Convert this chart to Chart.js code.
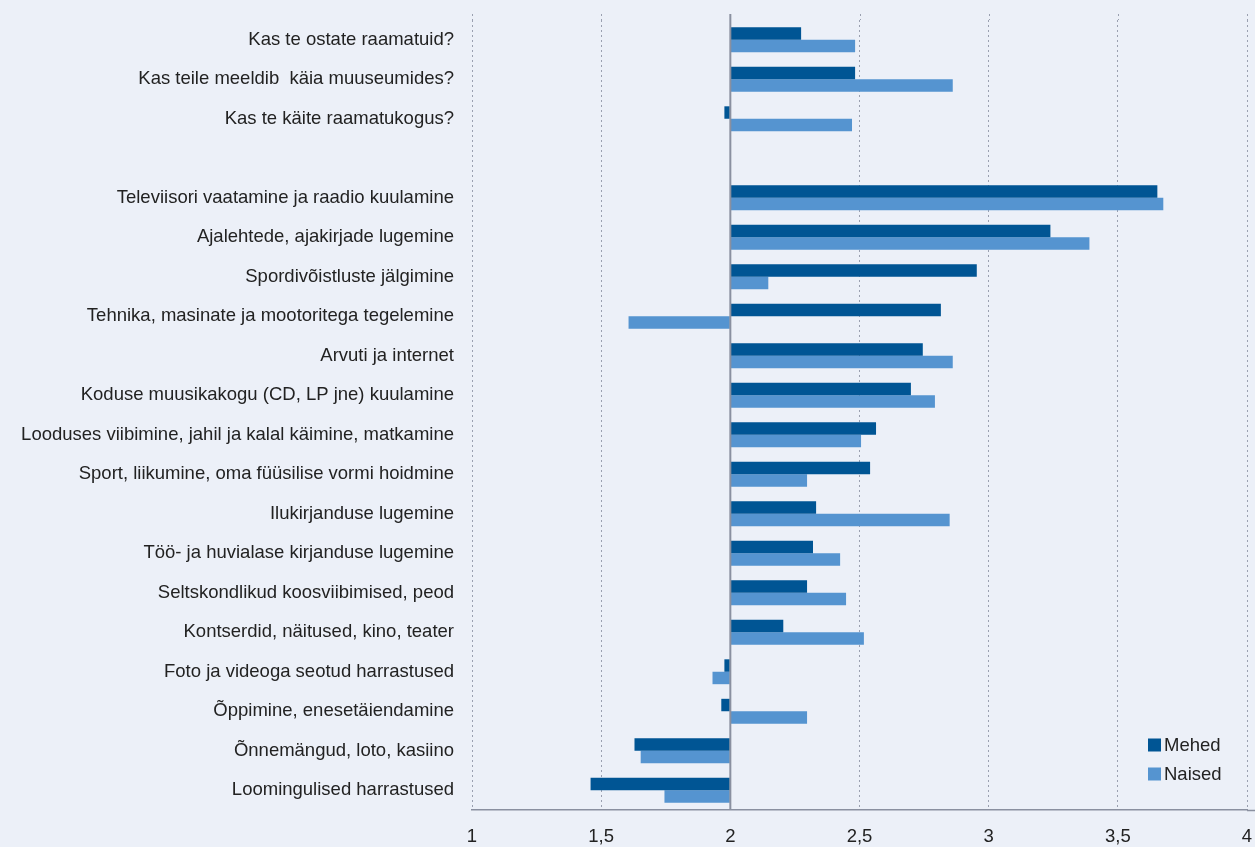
<!DOCTYPE html>
<html>
<head>
<meta charset="utf-8">
<script src="https://cdn.jsdelivr.net/npm/chart.js@4"></script>
<style>
html,body{margin:0;padding:0;background:#ecf0f8;}
#wrap{position:relative;width:1255px;height:847px;}
</style>
</head>
<body>
<div id="wrap"><canvas id="c" width="1255" height="847"></canvas></div>
<script>
const categories = [
  "Kas te ostate raamatuid?",
  "Kas teile meeldib  käia muuseumides?",
  "Kas te käite raamatukogus?",
  "",
  "Televiisori vaatamine ja raadio kuulamine",
  "Ajalehtede, ajakirjade lugemine",
  "Spordivõistluste jälgimine",
  "Tehnika, masinate ja mootoritega tegelemine",
  "Arvuti ja internet",
  "Koduse muusikakogu (CD, LP jne) kuulamine",
  "Looduses viibimine, jahil ja kalal käimine, matkamine",
  "Sport, liikumine, oma füüsilise vormi hoidmine",
  "Ilukirjanduse lugemine",
  "Töö- ja huvialase kirjanduse lugemine",
  "Seltskondlikud koosviibimised, peod",
  "Kontserdid, näitused, kino, teater",
  "Foto ja videoga seotud harrastused",
  "Õppimine, enesetäiendamine",
  "Õnnemängud, loto, kasiino",
  "Loomingulised harrastused"
];
const mehed = [2.274, 2.483, 1.977, null, 3.653, 3.239, 2.954, 2.815, 2.745, 2.699, 2.564, 2.541, 2.332, 2.320, 2.297, 2.205, 1.977, 1.965, 1.629, 1.459];
const naised = [2.483, 2.861, 2.471, null, 3.676, 3.390, 2.147, 1.606, 2.861, 2.792, 2.506, 2.297, 2.849, 2.425, 2.448, 2.517, 1.931, 2.297, 1.653, 1.745];
const seriesNames = ["Mehed", "Naised"];
const xTicks = [1, 1.5, 2, 2.5, 3, 3.5, 4];
const baseValue = 2;

const colors = ["#005594", "#5594d0"];
const FONT = "'Liberation Sans', Arial, sans-serif";
const GRID_EXT = 6;

const extras = {
  id: 'extras',
  beforeDatasetsDraw(chart) {
    const ctx = chart.ctx;
    const a = chart.chartArea;
    const xs = chart.scales.x;
    ctx.save();
    ctx.strokeStyle = '#9aa0b0';
    ctx.lineWidth = 1;
    ctx.setLineDash([2, 3]);
    xs.ticks.forEach(t => {
      const px = Math.round(xs.getPixelForValue(t.value)) + 0.5;
      ctx.beginPath();
      ctx.moveTo(px, a.top - GRID_EXT);
      ctx.lineTo(px, a.top);
      ctx.stroke();
    });
    ctx.restore();
  },
  afterDatasetsDraw(chart) {
    const ctx = chart.ctx;
    const x = chart.scales.x.getPixelForValue(baseValue);
    const a = chart.chartArea;
    ctx.save();
    ctx.strokeStyle = '#8a90a0';
    ctx.lineWidth = 2;
    ctx.beginPath();
    ctx.moveTo(x, a.top - GRID_EXT);
    ctx.lineTo(x, a.bottom);
    ctx.stroke();
    ctx.lineWidth = 1.5;
    ctx.beginPath();
    ctx.moveTo(a.right, a.bottom + 0.5);
    ctx.lineTo(chart.width, a.bottom + 0.5);
    ctx.stroke();
    // legend
    ctx.font = "18.5px " + FONT;
    ctx.textBaseline = 'middle';
    ctx.textAlign = 'left';
    const lx = 1148, ly = [745, 774];
    chart.data.datasets.forEach((ds, i) => {
      ctx.fillStyle = ds.backgroundColor;
      ctx.fillRect(lx, ly[i] - 6.5, 13, 13);
      ctx.fillStyle = '#222';
      ctx.fillText(ds.label, lx + 16, ly[i] + 1);
    });
    ctx.restore();
  }
};

new Chart(document.getElementById('c'), {
  type: 'bar',
  data: {
    labels: categories,
    datasets: [
      { label: seriesNames[0], data: mehed, backgroundColor: colors[0], base: baseValue, categoryPercentage: 0.63, barPercentage: 1 },
      { label: seriesNames[1], data: naised, backgroundColor: colors[1], base: baseValue, categoryPercentage: 0.63, barPercentage: 1 }
    ]
  },
  options: {
    indexAxis: 'y',
    responsive: false,
    animation: false,
    layout: { padding: { top: 20, right: 8, left: 0, bottom: 0 } },
    plugins: { legend: { display: false }, tooltip: { enabled: false } },
    scales: {
      x: {
        min: 1, max: 4,
        afterBuildTicks(scale) { scale.ticks = xTicks.map(v => ({ value: v })); },
        afterFit(scale) { scale.height = 37; },
        ticks: {
          color: '#222',
          font: { family: FONT, size: 18.5 },
          padding: 0,
          maxRotation: 0,
          callback: v => String(v).replace('.', ',')
        },
        grid: { color: '#9aa0b0', lineWidth: 1, drawTicks: true, tickLength: 16, tickColor: 'rgba(0,0,0,0)' },
        border: { display: true, color: '#8a90a0', width: 1.5, dash: [2, 3] }
      },
      y: {
        afterFit(scale) { scale.width = 472; },
        ticks: {
          color: '#222',
          font: { family: FONT, size: 18.5 },
          padding: 0,
          autoSkip: false
        },
        grid: { display: true, drawOnChartArea: false, drawTicks: true, tickLength: 18, tickColor: 'rgba(0,0,0,0)' },
        border: { display: false }
      }
    }
  },
  plugins: [extras]
});
</script>
</body>
</html>
